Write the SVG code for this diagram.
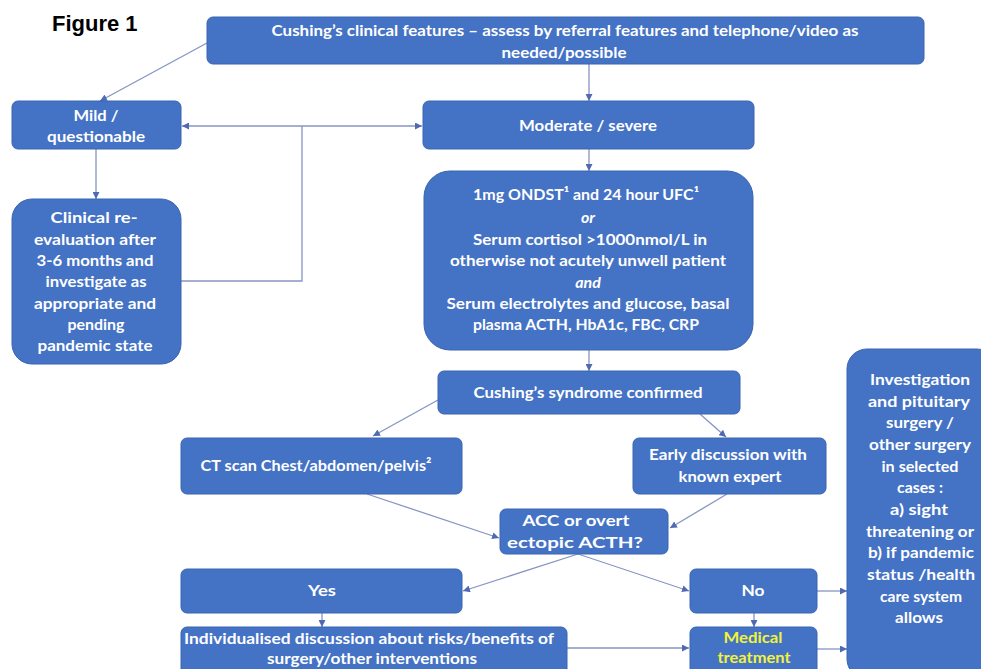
<svg xmlns="http://www.w3.org/2000/svg" width="981" height="669" viewBox="0 0 981 669">
<defs>
<style>
.box{fill:#4472C4;stroke:#3A64B2;stroke-width:1}
.t{fill:#FFFFFF;font-family:Lato,"Liberation Sans",Arial,sans-serif;font-weight:bold;font-size:16px;text-anchor:middle}
.it{font-style:italic}
.y{fill:#F2F23A}
.c{fill:none;stroke:#8695C3;stroke-width:1.3}
.fig{fill:#000000;font-family:"Liberation Sans",Arial,sans-serif;font-weight:bold;font-size:22px}
</style>
<marker id="ah" viewBox="0 0 8 8" refX="8" refY="4" markerWidth="7" markerHeight="7" markerUnits="userSpaceOnUse" orient="auto-start-reverse">
<path d="M0,0 L8,4 L0,8 Z" fill="#4F6AB3"/>
</marker>
</defs>
<rect width="981" height="669" fill="#FFFFFF"/>
<text class="fig" x="52" y="31">Figure 1</text>

<g id="connectors">
<line class="c" x1="589" y1="64" x2="589" y2="101" marker-end="url(#ah)"/>
<line class="c" x1="207" y1="43" x2="100" y2="101" marker-end="url(#ah)"/>
<line class="c" x1="182" y1="126" x2="422" y2="126" marker-start="url(#ah)" marker-end="url(#ah)"/>
<polyline class="c" points="181,281 302,281 302,126"/>
<line class="c" x1="96" y1="149" x2="96" y2="199" marker-end="url(#ah)"/>
<line class="c" x1="589" y1="149" x2="589" y2="171" marker-end="url(#ah)"/>
<line class="c" x1="589" y1="350" x2="589" y2="371" marker-end="url(#ah)"/>
<line class="c" x1="438" y1="400" x2="373" y2="436" marker-end="url(#ah)"/>
<line class="c" x1="700" y1="414" x2="726" y2="437" marker-end="url(#ah)"/>
<line class="c" x1="367" y1="494" x2="499" y2="538" marker-end="url(#ah)"/>
<line class="c" x1="727" y1="494" x2="670" y2="528" marker-end="url(#ah)"/>
<line class="c" x1="578" y1="554" x2="463" y2="591" marker-end="url(#ah)"/>
<line class="c" x1="578" y1="554" x2="689" y2="591" marker-end="url(#ah)"/>
<line class="c" x1="322" y1="613" x2="322" y2="627" marker-end="url(#ah)"/>
<line class="c" x1="754" y1="613" x2="754" y2="627" marker-end="url(#ah)"/>
<line class="c" x1="567" y1="648" x2="689" y2="648" marker-end="url(#ah)"/>
<line class="c" x1="817" y1="591" x2="847" y2="591" marker-end="url(#ah)"/>
<line class="c" x1="817" y1="649" x2="847" y2="649" marker-end="url(#ah)"/>
</g>

<g id="node-top">
<rect class="box" x="207" y="17" width="717" height="47" rx="6"/>
<text class="t" x="565" y="36" textLength="587" lengthAdjust="spacingAndGlyphs">Cushing’s clinical features – assess by referral features and telephone/video as</text>
<text class="t" x="564" y="58" textLength="125" lengthAdjust="spacingAndGlyphs">needed/possible</text>
</g>

<g id="node-mild">
<rect class="box" x="12" y="101" width="169" height="48" rx="6"/>
<text class="t" x="96" y="121" textLength="45" lengthAdjust="spacingAndGlyphs">Mild /</text>
<text class="t" x="96" y="142" textLength="98" lengthAdjust="spacingAndGlyphs">questionable</text>
</g>

<g id="node-moderate">
<rect class="box" x="423" y="101" width="331" height="48" rx="6"/>
<text class="t" x="588" y="131" textLength="138" lengthAdjust="spacingAndGlyphs">Moderate / severe</text>
</g>

<g id="node-clinical">
<rect class="box" x="12" y="199" width="169" height="165" rx="20"/>
<text class="t" x="94" y="223" textLength="87" lengthAdjust="spacingAndGlyphs">Clinical re-</text>
<text class="t" x="95" y="245" textLength="122" lengthAdjust="spacingAndGlyphs">evaluation after</text>
<text class="t" x="95" y="266" textLength="117" lengthAdjust="spacingAndGlyphs">3-6 months and</text>
<text class="t" x="96" y="287" textLength="101" lengthAdjust="spacingAndGlyphs">investigate as</text>
<text class="t" x="95" y="309" textLength="122" lengthAdjust="spacingAndGlyphs">appropriate and</text>
<text class="t" x="96" y="330" textLength="57" lengthAdjust="spacingAndGlyphs">pending</text>
<text class="t" x="95" y="351" textLength="115" lengthAdjust="spacingAndGlyphs">pandemic state</text>
</g>

<g id="node-tests">
<rect class="box" x="424" y="171" width="329" height="179" rx="26"/>
<text class="t" x="586" y="200" textLength="226" lengthAdjust="spacingAndGlyphs">1mg ONDST¹ and 24 hour UFC¹</text>
<text class="t it" x="588" y="223">or</text>
<text class="t" x="590" y="245" textLength="234" lengthAdjust="spacingAndGlyphs">Serum cortisol &gt;1000nmol/L in</text>
<text class="t" x="588" y="266" textLength="276" lengthAdjust="spacingAndGlyphs">otherwise not acutely unwell patient</text>
<text class="t it" x="588" y="288">and</text>
<text class="t" x="588" y="309" textLength="283" lengthAdjust="spacingAndGlyphs">Serum electrolytes and glucose, basal</text>
<text class="t" x="586" y="330" textLength="226" lengthAdjust="spacingAndGlyphs">plasma ACTH, HbA1c, FBC, CRP</text>
</g>

<g id="node-confirmed">
<rect class="box" x="438" y="371" width="302" height="43" rx="6"/>
<text class="t" x="588" y="398" textLength="229" lengthAdjust="spacingAndGlyphs">Cushing’s syndrome confirmed</text>
</g>

<g id="node-ct">
<rect class="box" x="181" y="438" width="281" height="56" rx="6"/>
<text class="t" x="316" y="471" textLength="231" lengthAdjust="spacingAndGlyphs">CT scan Chest/abdomen/pelvis²</text>
</g>

<g id="node-early">
<rect class="box" x="633" y="438" width="193" height="56" rx="6"/>
<text class="t" x="728" y="460" textLength="158" lengthAdjust="spacingAndGlyphs">Early discussion with</text>
<text class="t" x="730" y="482" textLength="103" lengthAdjust="spacingAndGlyphs">known expert</text>
</g>

<g id="node-acc">
<rect class="box" x="500" y="509" width="168" height="45" rx="6"/>
<text class="t" x="576" y="526" textLength="107" lengthAdjust="spacingAndGlyphs">ACC or overt</text>
<text class="t" x="575" y="548" textLength="136" lengthAdjust="spacingAndGlyphs">ectopic ACTH?</text>
</g>

<g id="node-yes">
<rect class="box" x="181" y="569" width="281" height="44" rx="6"/>
<text class="t" x="322" y="596" textLength="28" lengthAdjust="spacingAndGlyphs">Yes</text>
</g>

<g id="node-no">
<rect class="box" x="690" y="569" width="127" height="44" rx="6"/>
<text class="t" x="753" y="596" textLength="23" lengthAdjust="spacingAndGlyphs">No</text>
</g>

<g id="node-individualised">
<rect class="box" x="181" y="627" width="386" height="50" rx="6"/>
<text class="t" x="369" y="644" textLength="370" lengthAdjust="spacingAndGlyphs">Individualised discussion about risks/benefits of</text>
<text class="t" x="372" y="664" textLength="210" lengthAdjust="spacingAndGlyphs">surgery/other interventions</text>
</g>

<g id="node-medical">
<rect class="box" x="690" y="627" width="127" height="50" rx="6"/>
<text class="t y" x="753" y="643" textLength="59" lengthAdjust="spacingAndGlyphs">Medical</text>
<text class="t y" x="754" y="663" textLength="73" lengthAdjust="spacingAndGlyphs">treatment</text>
</g>

<g id="node-investigation">
<rect class="box" x="847" y="349" width="150" height="330" rx="20"/>
<text class="t" x="920" y="385" textLength="100" lengthAdjust="spacingAndGlyphs">Investigation</text>
<text class="t" x="919" y="407" textLength="102" lengthAdjust="spacingAndGlyphs">and pituitary</text>
<text class="t" x="920" y="428" textLength="68" lengthAdjust="spacingAndGlyphs">surgery /</text>
<text class="t" x="920" y="450" textLength="102" lengthAdjust="spacingAndGlyphs">other surgery</text>
<text class="t" x="920" y="472" textLength="77" lengthAdjust="spacingAndGlyphs">in selected</text>
<text class="t" x="920" y="493" textLength="46" lengthAdjust="spacingAndGlyphs">cases :</text>
<text class="t" x="919" y="515" textLength="58" lengthAdjust="spacingAndGlyphs">a) sight</text>
<text class="t" x="920" y="537" textLength="108" lengthAdjust="spacingAndGlyphs">threatening or</text>
<text class="t" x="921" y="558" textLength="106" lengthAdjust="spacingAndGlyphs">b) if pandemic</text>
<text class="t" x="921" y="580" textLength="108" lengthAdjust="spacingAndGlyphs">status  /health</text>
<text class="t" x="921" y="602" textLength="82" lengthAdjust="spacingAndGlyphs">care system</text>
<text class="t" x="919" y="623" textLength="48" lengthAdjust="spacingAndGlyphs">allows</text>
</g>
</svg>
